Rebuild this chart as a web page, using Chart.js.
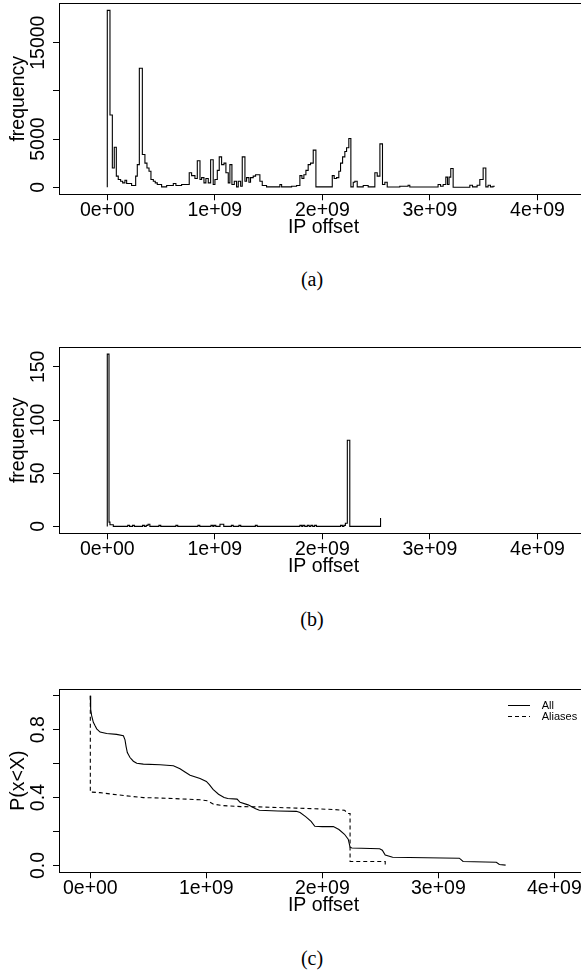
<!DOCTYPE html>
<html>
<head>
<meta charset="utf-8">
<title>IP offset distributions</title>
<script src="https://cdn.jsdelivr.net/npm/chart.js@4.4.1/dist/chart.umd.min.js"></script>
<style>
html, body { margin: 0; padding: 0; background: #fff; width: 581px; height: 976px; overflow: hidden; }
.panel { position: absolute; left: 0; width: 600px; height: 250px; }
.cap { position: absolute; left: 262px; width: 100px; text-align: center; font: 20px/20px "Liberation Serif", "DejaVu Serif", serif; color: #000; }
</style>
</head>
<body>
<div class="panel" style="top:0px"><canvas id="histAll" width="600" height="250"></canvas></div>
<div class="cap" style="top:269px">(a)</div>
<div class="panel" style="top:339.4px"><canvas id="histAliases" width="600" height="250"></canvas></div>
<div class="cap" style="top:608.5px">(b)</div>
<div class="panel" style="top:678.4px"><canvas id="ccdf" width="600" height="250"></canvas></div>
<div class="cap" style="top:947.8px">(c)</div>
<script>
console.log("Script loaded!");

// x values are IP offsets in millions
const xTicks = [0, 1000, 2000, 3000, 4000];
const xTickLabels = ["0e+00", "1e+09", "2e+09", "3e+09", "4e+09"];

// (a) histogram of all offsets, step breakpoints
const allHistX = [0, 0, 25, 47, 65, 84, 102, 124, 143, 164,
    180, 226, 264, 279, 298, 326, 350, 369, 388, 406,
    428, 446, 465, 505, 552, 614, 638, 691, 762, 784,
    815, 837, 862, 877, 899, 917, 939, 961, 985, 1001,
    1023, 1041, 1063, 1085, 1103, 1125, 1140, 1159, 1181, 1202,
    1218, 1240, 1255, 1280, 1295, 1317, 1332, 1357, 1379, 1419,
    1441, 1481, 1605, 1621, 1714, 1760, 1791, 1810, 1828, 1847,
    1868, 1890, 1915, 1940, 2092, 2110, 2132, 2153, 2169, 2188,
    2209, 2225, 2246, 2265, 2287, 2302, 2324, 2380, 2426, 2488,
    2510, 2535, 2559, 2581, 2603, 2720, 2797, 2813, 3076, 3099,
    3123, 3148, 3164, 3178, 3194, 3216, 3371, 3396, 3439, 3464,
    3495, 3520, 3541, 3563, 3587, 3603];
const allHistY = [0, 18350, 7500, 2000, 4150, 1150, 800, 620, 450, 720,
    380, 175, 1150, 2350, 12350, 3400, 2500, 2000, 1650, 800,
    620, 450, 280, 40, 175, 380, 175, 280, 1500, 1200,
    900, 2750, 800, 1000, 450, 900, 450, 2850, 280, 800,
    1750, 3150, 2350, 2500, 1500, 450, 2350, 280, 620, 40,
    620, 100, 3150, 620, 1000, 520, 1000, 1150, 1300, 620,
    175, 40, 280, 40, 100, 175, 1200, 900, 1300, 1750,
    2350, 2500, 3850, 40, 1200, 900, 1000, 1650, 2500, 3150,
    3700, 4100, 5050, 40, 520, 620, 40, 175, 40, 1500,
    1150, 4500, 280, 520, 30, 100, 200, 20, 280, 100,
    280, 1050, 280, 1050, 1950, 0, 200, 40, 200, 800,
    2000, 40, 200, 40, 100, 100];
const allHistTicks = [0, 5000, 10000, 15000];
const allHistTickLabels = ["0", "5000", "", "15000"];

// (b) histogram of alias offsets
const aliasHistX = [0, 0, 16, 25, 56, 190, 207, 235, 252, 328,
    345, 362, 379, 396, 480, 497, 638, 655, 843, 860,
    964, 981, 992, 1009, 1048, 1083, 1154, 1171, 1224, 1241,
    1377, 1394, 1791, 1808, 1819, 1836, 1860, 1877, 1893, 1910,
    1928, 1945, 2169, 2186, 2200, 2214, 2232, 2255, 2541];
const aliasHistY = [0, 162, 4, 1.5, 0, 1, 0, 1, 0, 1,
    0, 1, 2, 0, 1, 0, 1, 0, 1, 0,
    1, 0, 1, 0, 2, 0, 1, 0, 1, 0,
    1, 0, 1, 0, 1, 0, 1, 0, 1, 0,
    1, 0, 1, 0, 1, 3, 81, 0, 8];
const aliasHistTicks = [0, 50, 100, 150];
const aliasHistTickLabels = ["0", "50", "100", "150"];

// (c) complementary distributions
const seriesNames = ["All", "Aliases"];
const ccdfAllX = [0, 3, 12, 26, 40, 55, 84, 141, 227, 285,
    299, 308, 319, 342, 371, 400, 457, 601, 716, 773,
    816, 860, 946, 1000, 1026, 1058, 1105, 1153, 1185, 1265,
    1291, 1360, 1425, 1457, 1616, 1776, 1808, 1856, 1903, 1935,
    1999, 2095, 2143, 2191, 2223, 2239, 2255, 2494, 2517, 2542,
    2606, 3181, 3213, 3500, 3526, 3580];
const ccdfAllY = [1.0, 0.919, 0.881, 0.843, 0.824, 0.805, 0.786, 0.777, 0.772, 0.764,
    0.740, 0.702, 0.665, 0.636, 0.614, 0.602, 0.597, 0.593, 0.587, 0.570,
    0.551, 0.532, 0.513, 0.495, 0.476, 0.448, 0.420, 0.401, 0.395, 0.391,
    0.372, 0.357, 0.334, 0.325, 0.321, 0.319, 0.312, 0.288, 0.260, 0.231,
    0.229, 0.229, 0.212, 0.184, 0.155, 0.108, 0.103, 0.099, 0.090, 0.062,
    0.049, 0.043, 0.024, 0.019, 0.006, 0.002];
const ccdfAliasX = [0, 0, 12, 84, 199, 314, 457, 658, 946, 1010,
    1058, 1137, 1297, 1457, 1776, 1935, 2095, 2191, 2223, 2239,
    2239, 2542, 2542];
const ccdfAliasY = [1.0, 0.432, 0.432, 0.429, 0.419, 0.410, 0.400, 0.396, 0.387, 0.381,
    0.362, 0.353, 0.347, 0.345, 0.338, 0.334, 0.330, 0.325, 0.306, 0.306,
    0.024, 0.024, 0.002];
const ccdfTicks = [0, 0.2, 0.4, 0.6, 0.8, 1.0];
const ccdfTickLabels = ["0.0", "", "0.4", "", "0.8", ""];

const FONT = '"Liberation Sans", Arial, sans-serif';
const FONT_SIZE = 19.5;
Chart.defaults.color = '#000';
Chart.defaults.font.family = FONT;

// plot frame, like R's box()
const boxPlugin = {
    id: 'box',
    afterDraw(chart) {
        const {ctx, chartArea: a} = chart;
        ctx.save();
        ctx.strokeStyle = '#000';
        ctx.lineWidth = 1;
        ctx.strokeRect(Math.round(a.left) + 0.5, Math.round(a.top) + 0.5,
            Math.round(a.right - a.left), Math.round(a.bottom - a.top));
        ctx.restore();
    }
};

// small legend in the top right corner of (c)
const cornerLegend = {
    id: 'cornerLegend',
    afterDraw(chart) {
        const {ctx, chartArea: a} = chart;
        ctx.save();
        ctx.font = '11px ' + FONT;
        ctx.textBaseline = 'middle';
        ctx.fillStyle = '#000';
        chart.data.datasets.forEach((ds, i) => {
            const y = Math.round(a.top + 16 + i * 11.6) + 0.5;
            ctx.strokeStyle = '#000';
            ctx.lineWidth = 1;
            ctx.setLineDash(ds.borderDash || []);
            ctx.beginPath();
            ctx.moveTo(a.right - 80, y);
            ctx.lineTo(a.right - 58, y);
            ctx.stroke();
            ctx.fillText(ds.label, a.right - 46.3, y);
        });
        ctx.restore();
    }
};

function points(xs, ys) {
    return xs.map((x, i) => ({x: x, y: ys[i]}));
}

// tick label padding so rotated labels sit centred at x = 38
function yLabelPad(labels) {
    let c = document.createElement('canvas').getContext('2d');
    c.font = FONT_SIZE + 'px ' + FONT;
    let widest = Math.max.apply(null, labels.map(s => c.measureText(s).width));
    return 59 - 6 - 38.3 - widest / 2;
}

function makeChart(id, datasets, o) {
    let ctx = document.getElementById(id).getContext('2d');
    return new Chart(ctx, {
        type: 'line',
        data: { datasets: datasets },
        options: {
            responsive: false,
            animation: false,
            events: [],
            layout: { padding: { top: 3.3, bottom: 5.7, left: 0, right: 12 } },
            plugins: { legend: { display: false }, tooltip: { enabled: false } },
            scales: {
                x: {
                    type: 'linear',
                    min: o.xMin, max: o.xMax,
                    afterBuildTicks: s => { s.ticks = xTicks.map(v => ({value: v})); },
                    afterFit: s => { s.height = 50; },
                    border: { display: false },
                    grid: { drawOnChartArea: false, drawTicks: true, tickLength: 6, color: '#000' },
                    ticks: {
                        autoSkip: false, maxRotation: 0, padding: 0.65,
                        font: { size: FONT_SIZE, lineHeight: 1 },
                        callback: v => xTickLabels[xTicks.indexOf(v)]
                    },
                    title: {
                        display: true, text: 'IP offset',
                        font: { size: FONT_SIZE, lineHeight: 1 },
                        padding: { top: 0, bottom: 6.55 }
                    }
                },
                y: {
                    type: 'linear',
                    min: o.yMin, max: o.yMax,
                    afterBuildTicks: s => { s.ticks = o.yTicks.map(v => ({value: v})); },
                    afterFit: s => { s.width = 59; },
                    border: { display: false },
                    grid: { drawOnChartArea: false, drawTicks: true, tickLength: 6, color: '#000' },
                    ticks: {
                        autoSkip: false, minRotation: 90, maxRotation: 90,
                        crossAlign: 'center', padding: yLabelPad(o.yTickLabels),
                        font: { size: FONT_SIZE, lineHeight: 1 },
                        callback: v => o.yTickLabels[o.yTicks.indexOf(v)]
                    },
                    title: {
                        display: true, text: o.yTitle,
                        font: { size: FONT_SIZE, lineHeight: 1 },
                        padding: { top: 9.25, bottom: 0 }
                    }
                }
            }
        },
        plugins: [boxPlugin].concat(o.plugins || [])
    });
}

function stepLine(label, xs, ys) {
    return {
        label: label, data: points(xs, ys), stepped: 'before',
        borderColor: '#000', borderWidth: 1.1, pointRadius: 0, fill: false
    };
}

// (a)
makeChart('histAll', [stepLine('All', allHistX, allHistY)], {
    xMin: -449, xMax: 4470, yMin: -734, yMax: 19084,
    yTicks: allHistTicks, yTickLabels: allHistTickLabels, yTitle: 'frequency'
});

// (b)
makeChart('histAliases', [stepLine('Aliases', aliasHistX, aliasHistY)], {
    xMin: -449, xMax: 4470, yMin: -6.48, yMax: 168.48,
    yTicks: aliasHistTicks, yTickLabels: aliasHistTickLabels, yTitle: 'frequency'
});

// (c)
makeChart('ccdf', [
    { label: seriesNames[0], data: points(ccdfAllX, ccdfAllY),
      borderColor: '#000', borderWidth: 1.1, pointRadius: 0, fill: false, tension: 0 },
    { label: seriesNames[1], data: points(ccdfAliasX, ccdfAliasY),
      borderColor: '#000', borderWidth: 1.1, borderDash: [4, 3], pointRadius: 0, fill: false, tension: 0 }
], {
    xMin: -270, xMax: 4290, yMin: -0.04, yMax: 1.04,
    yTicks: ccdfTicks, yTickLabels: ccdfTickLabels, yTitle: 'P(x<X)',
    plugins: [cornerLegend]
});
</script>
</body>
</html>
